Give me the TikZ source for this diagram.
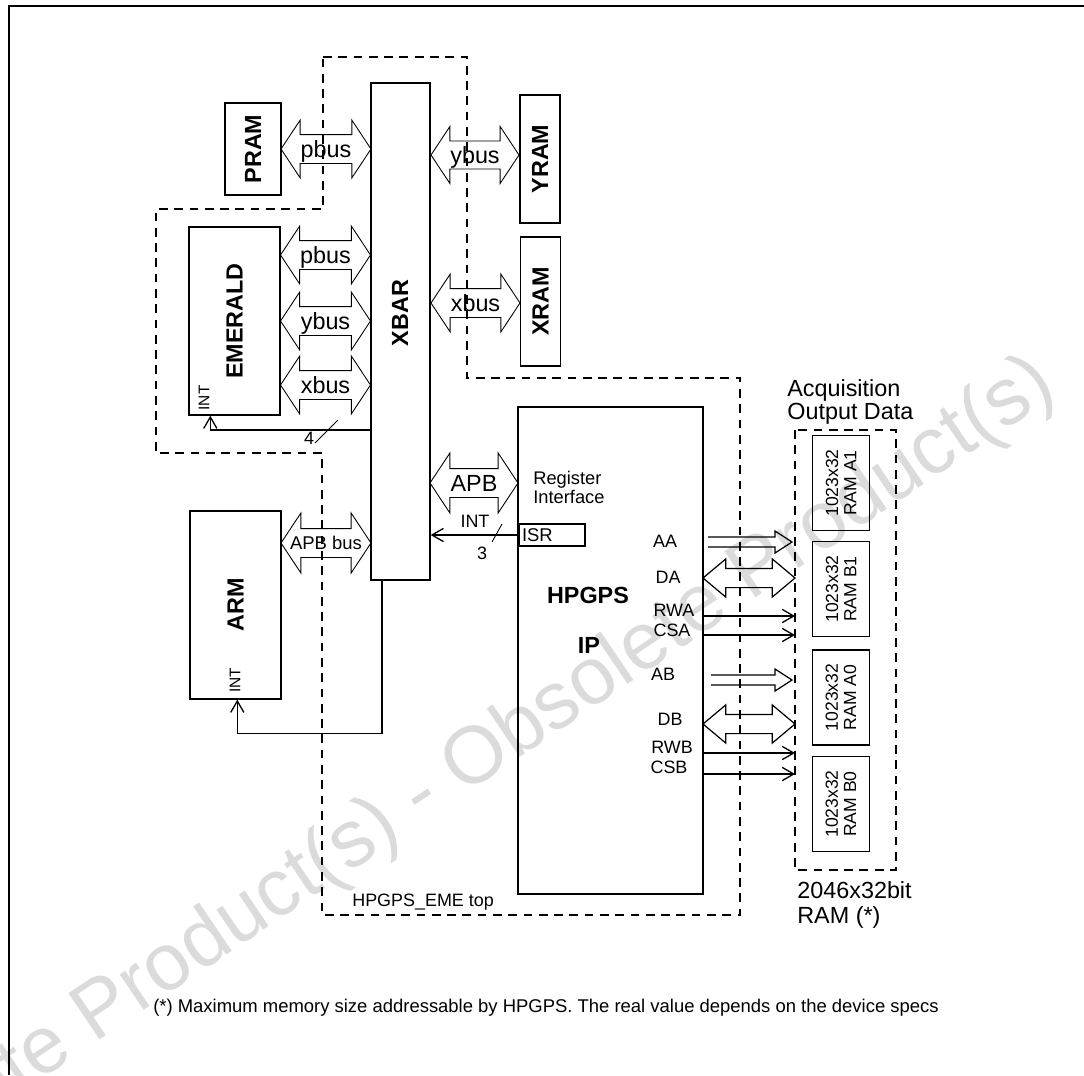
\documentclass[tikz,border=0pt]{standalone}
\usepackage{fontspec}
\setmainfont{Liberation Sans}
\usepackage{graphicx}
\usetikzlibrary{arrows.meta, calc, shapes.arrows}

\newcommand{\fsz}[2]{\fontsize{#1}{#2}\selectfont}
% shaft height and centred label of a bus arrow
\newcommand{\shaft}[2]{\rule[-\dimexpr#1/2\relax]{0pt}{#1}\makebox[0pt]{\raisebox{-0.36em}{#2}}}

\begin{document}
\begin{tikzpicture}[x=0.02cm, y=-0.02cm,
  box/.style={draw, line width=0.8pt, inner sep=0pt, font=\fsz{13.3}{15}\bfseries},
  ram/.style={draw, line width=0.8pt, inner sep=0pt, rotate=90, align=center,
    minimum width=1.9cm, minimum height=1.14cm, font=\fsz{10}{10.4}},
  bus/.style={double arrow, draw, line width=0.5pt, inner sep=0pt, minimum width=1.14cm,
    double arrow head extend=0.29cm, double arrow tip angle=113, font=\fsz{13.3}{15}},
  grp/.style={draw, line width=0.7pt, dash pattern=on 5pt off 3.7pt},
  sig/.style={line width=0.75pt, -{Straight Barb[length=6.5pt, width=7.5pt]}},
  lbl/.style={inner sep=0pt, font=\fsz{10.2}{11}},
  big/.style={inner sep=0pt, font=\fsz{13.3}{12}},
]
  \useasboundingbox (0,0) rectangle (1084,1075);

  % watermark
  \begin{scope}
    \clip (0,0) rectangle (1084,1075);
    \node[rotate=34, text=black!14, inner sep=0pt, font=\fsz{46}{46}] (wmark) at (422,798)
      {Obsolete Product(s) - Obsolete Product(s)};
  \end{scope}

  % frame
  \draw[line width=1.3pt] (9,1075) -- (9,6) -- (1084,6);

  % HPGPS_EME top
  \draw[grp] (323,57) -- (467,57) -- (467,378) -- (740,378) -- (740,915) -- (322,915)
    -- (322,453) -- (156,453) -- (156,209) -- (323,209) -- cycle;
  \node[lbl, anchor=west] (emetop) at (352,902) {HPGPS\_EME top};

  % blocks
  \node[box, minimum width=1.12cm, minimum height=1.84cm] (pram) at (253,149) {\rotatebox{90}{PRAM}};
  \node[box, minimum width=1.18cm, minimum height=9.94cm] (xbar) at (400.5,331.5) {};
  \node[box, draw=none] (xbarlbl) at (400,313) {\rotatebox{90}{XBAR}};
  \node[box, minimum width=0.8cm, minimum height=2.56cm] (yram) at (540,159) {\rotatebox{90}{YRAM}};
  \node[box, minimum width=0.8cm, minimum height=2.58cm] (xram) at (540.5,301.5) {\rotatebox{90}{XRAM}};
  \node[box, minimum width=1.82cm, minimum height=3.76cm] (emerald) at (234.5,321) {\rotatebox{90}{EMERALD}};
  \node[box, minimum width=1.82cm, minimum height=3.76cm] (arm) at (235.5,605) {\rotatebox{90}{ARM}};
  \node[box, minimum width=3.7cm, minimum height=9.74cm] (hpgps) at (610.5,650.5) {};
  \node[draw, line width=0.8pt, inner xsep=0.06cm, inner ysep=0pt, text width=1.2cm,
    minimum height=0.44cm, align=left, font=\fsz{10.5}{11}] (isr) at (552,535) {ISR};

  \node[lbl, font=\fsz{8.8}{9}] (emint) at (204,398) {\rotatebox{90}{INT}};
  \node[lbl, font=\fsz{8.8}{9}] (armint) at (235,680) {\rotatebox{90}{INT}};

  \node[lbl, anchor=west, align=left, font=\fsz{10.4}{10.8}] (regif) at (533,487) {Register\\Interface};
  \node[big, font=\fsz{13.3}{15}\bfseries] (hpname) at (588,595) {HPGPS};
  \node[big, font=\fsz{13.3}{15}\bfseries] (ipname) at (589,645) {IP};

  \node[lbl] (aalbl) at (665,541) {AA};
  \node[lbl] (dalbl) at (668,577) {DA};
  \node[lbl] (rwalbl) at (674,610) {RWA};
  \node[lbl] (csalbl) at (672,630) {CSA};
  \node[lbl] (ablbl) at (663,674) {AB};
  \node[lbl] (dblbl) at (670,719) {DB};
  \node[lbl] (rwblbl) at (672,747) {RWB};
  \node[lbl] (csblbl) at (669,767) {CSB};

  % buses
  \node[bus, minimum height=1.8cm] (pbusp) at (326,149) {\shaft{0.56cm}{pbus}};
  \node[bus, minimum height=1.76cm] (ybusy) at (475,155) {\shaft{0.54cm}{ybus}};
  \node[bus, minimum height=1.78cm] (xbusx) at (475.5,303) {\shaft{0.56cm}{xbus}};
  \node[bus, minimum height=1.8cm] (pbuse) at (325.5,255) {\shaft{0.56cm}{pbus}};
  \node[bus, minimum height=1.8cm] (ybuse) at (325.5,321) {\shaft{0.56cm}{ybus}};
  \node[bus, minimum height=1.8cm] (xbuse) at (325.5,385) {\shaft{0.56cm}{xbus}};
  \node[bus, minimum height=1.76cm, minimum width=1.18cm, double arrow head extend=0.31cm] (apb)
    at (474,483) {\shaft{0.56cm}{APB}};
  \node[bus, minimum height=1.8cm, minimum width=1.18cm, double arrow head extend=0.31cm,
    font=\fsz{10.5}{12}] (apbbus) at (326,543) {\shaft{0.56cm}{APB bus}};

  % interrupts
  \draw[sig] (xbar.west |- 0,430) -| ($(emerald.south west)+(22,0)$);
  \draw[line width=0.5pt] (338,420) -- (315,443);
  \node[lbl] (nfour) at (309,438) {4};
  \draw[sig] ($(xbar.south)+(-18.5,0)$) -- ++(0,153) -| ($(arm.south west)+(48,0)$);
  \draw[sig] (isr.west) -- (xbar.east |- isr.west);
  \draw[line width=0.5pt] (502,524) -- (492,542);
  \node[lbl] (intlbl) at (475,521) {INT};
  \node[lbl] (nthree) at (482,553) {3};

  % acquisition RAM
  \draw[grp] (795,430) rectangle (896,870);
  \coordinate (ramgrp) at (795,430);
  \node[ram] (rama1) at (841,483) {1023x32\\RAM A1};
  \node[ram] (ramb1) at (841,589) {1023x32\\RAM B1};
  \node[ram] (rama0) at (841,697.5) {1023x32\\RAM A0};
  \node[ram] (ramb0) at (841,804) {1023x32\\RAM B0};
  \node[big, anchor=west, align=left] (acq) at (787,402) {Acquisition\\Output Data};
  \node[big, anchor=west, align=left, font=\fsz{13.3}{14.2}] (ramsize) at (797,905) {2046x32bit\\RAM (*)};

  % HPGPS to RAM
  \coordinate (aa) at (708,542);
  \draw[line width=0.7pt] (aa) ++(0,-5) -- ++(67,0) -- ++(0,-6) -- ++(17,11) -- ++(-17,11)
    -- ++(0,-6) -- ++(-67,0);
  \coordinate (ab) at (711,680);
  \draw[line width=0.7pt] (ab) ++(0,-5) -- ++(64,0) -- ++(0,-6) -- ++(17,11) -- ++(-17,11)
    -- ++(0,-6) -- ++(-64,0);
  \node[bus, minimum height=1.84cm, minimum width=0.74cm, double arrow head extend=0.19cm,
    double arrow tip angle=80, line width=0.7pt] (dabus) at (749,578) {\shaft{0.36cm}{}};
  \node[bus, minimum height=1.84cm, minimum width=0.74cm, double arrow head extend=0.19cm,
    double arrow tip angle=80, line width=0.7pt] (dbbus) at (749,724) {\shaft{0.36cm}{}};
  \draw[sig] (hpgps.east |- 0,616) -- (ramgrp |- 0,616);
  \draw[sig] (hpgps.east |- 0,635) -- (ramgrp |- 0,635);
  \draw[sig] (hpgps.east |- 0,753) -- (ramgrp |- 0,753);
  \draw[sig] (hpgps.east |- 0,774) -- (ramgrp |- 0,774);

  % footnote
  \node[lbl, font=\fsz{10.5}{12}] (note) at (546,1008)
    {(*) Maximum memory size addressable by HPGPS. The real value depends on the device specs};
\end{tikzpicture}
\end{document}
